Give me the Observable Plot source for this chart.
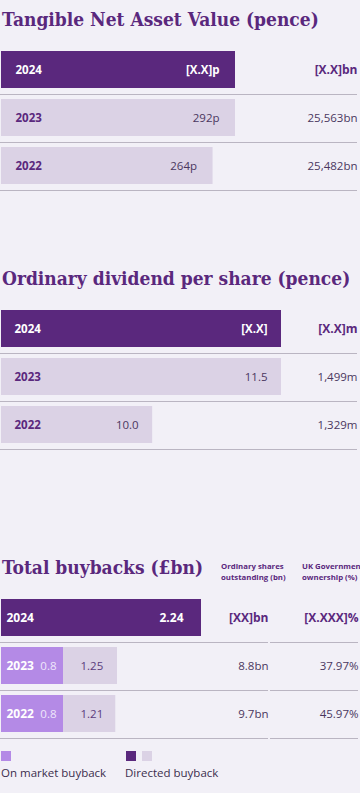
<!DOCTYPE html>
<html><head><meta charset="utf-8">
<script src="https://cdn.jsdelivr.net/npm/d3@7"></script>
<script src="https://cdn.jsdelivr.net/npm/@observablehq/plot@0.6"></script>
<style>
html,body{margin:0;padding:0;}
body{width:360px;height:793px;background:#f2f0f7;position:relative;overflow:hidden;font-family:"Open Sans",sans-serif;}
.title{position:absolute;left:2px;font-family:"DejaVu Serif";font-weight:bold;font-stretch:condensed;font-size:19px;line-height:19px;color:#5a287d;white-space:nowrap;}
.plot{position:absolute;line-height:0;}
.plot svg{display:block;}
.hdr{position:absolute;font-weight:bold;font-size:7.8px;line-height:11px;color:#5a287d;white-space:nowrap;}
.sw{position:absolute;width:10px;height:10px;}
.leg{position:absolute;font-size:11.5px;line-height:14px;color:#3b2e4d;white-space:nowrap;}
</style></head><body>
<div class="title" style="top:10px">Tangible Net Asset Value (pence)</div>
<div class="title" style="top:269px">Ordinary dividend per share (pence)</div>
<div class="title" style="top:558px">Total buybacks (£bn)</div>
<div class="hdr" style="left:221px;top:561px">Ordinary shares<br>outstanding (bn)</div>
<div class="hdr" style="left:302px;top:561px">UK Government<br>ownership (%)</div>
<div id="p1" class="plot" style="left:0;top:40px;width:360px;height:160px"></div>
<div id="p2" class="plot" style="left:0;top:300px;width:360px;height:160px"></div>
<div id="p3" class="plot" style="left:0;top:590px;width:268px;height:160px"></div>
<div id="p4" class="plot" style="left:270px;top:590px;width:88px;height:160px"></div>
<div class="sw" style="left:1px;top:751px;background:#b48ae6"></div>
<div class="sw" style="left:126px;top:751px;background:#5a287d"></div>
<div class="sw" style="left:142px;top:751px;background:#dbd2e5"></div>
<div class="leg" style="left:1px;top:766px">On market buyback</div>
<div class="leg" style="left:125px;top:766px">Directed buyback</div>
<script>
// ---- data ----
const tnavYears = ["2024", "2023", "2022"];
const tnavValues = [292, 292, 264];           // 2024 value not yet published
const tnavLabels = ["[X.X]p", "292p", "264p"];
const tnavTotals = ["[X.X]bn", "25,563bn", "25,482bn"];

const divYears = ["2024", "2023", "2022"];
const divValues = [11.5, 11.5, 10.0];          // 2024 value not yet published
const divLabels = ["[X.X]", "11.5", "10.0"];
const divTotals = ["[X.X]m", "1,499m", "1,329m"];

const bbYears = ["2024", "2023", "2022"];
const bbOnMarket = [0, 0.8, 0.8];
const bbDirected = [2.24, 1.25, 1.21];
const bbOnMarketLabels = ["", "0.8", "0.8"];
const bbDirectedLabels = ["2.24", "1.25", "1.21"];
const bbShares = ["[XX]bn", "8.8bn", "9.7bn"];
const bbOwnership = ["[X.XXX]%", "37.97%", "45.97%"];

// ---- styles ----
const DARK = "#5a287d", LIGHT = "#dbd2e5", ONMKT = "#b48ae6", RULE = "#bab5c2", TEXT = "#4a3760";
const FS = "11.5px";
const baseStyle = {fontFamily: "'Open Sans', sans-serif", fontSize: FS, background: "transparent", overflow: "visible", display: "block", maxWidth: "none"};
const BANDW = 38, GAP = 5.5;

function simpleSection(el, {years, values, labels, totals, xDomain, xRange, yRange, yearDx, valDx}) {
  const rows = years.map((y, i) => ({year: y, value: values[i], label: labels[i], total: totals[i], cur: i === 0}));
  const cur = d => d.cur, past = d => !d.cur;
  const chart = Plot.plot({
    width: 360, height: 160,
    marginLeft: 0, marginRight: 3, marginTop: 0, marginBottom: 0,
    style: baseStyle,
    x: {type: "linear", domain: xDomain, range: xRange, clamp: true, axis: null},
    y: {type: "band", domain: years, range: yRange, paddingInner: 0.224, paddingOuter: 0, axis: null},
    color: {type: "identity"},
    marks: [
      Plot.barX(rows, {x: "value", y: "year", fill: d => d.cur ? DARK : LIGHT}),
      Plot.ruleY(rows, {y: "year", stroke: RULE, strokeWidth: 1, dy: BANDW / 2 + GAP}),
      Plot.text(rows, {y: "year", text: "year", frameAnchor: "left", dx: yearDx, textAnchor: "start", fontWeight: "bold", fill: d => d.cur ? "#ffffff" : DARK}),
      Plot.text(rows, {filter: cur, x: "value", y: "year", text: "label", dx: valDx, textAnchor: "end", fontWeight: "bold", fill: "#ffffff"}),
      Plot.text(rows, {filter: past, x: "value", y: "year", text: "label", dx: valDx, textAnchor: "end", fill: TEXT}),
      Plot.text(rows, {filter: cur, y: "year", text: "total", frameAnchor: "right", textAnchor: "end", fontWeight: "bold", fill: DARK, fontSize: "12px"}),
      Plot.text(rows, {filter: past, y: "year", text: "total", frameAnchor: "right", textAnchor: "end", fill: TEXT})
    ]
  });
  document.getElementById(el).appendChild(chart);
}

simpleSection("p1", {years: tnavYears, values: tnavValues, labels: tnavLabels, totals: tnavTotals,
  xDomain: [0, 292], xRange: [1, 235], yRange: [10, 146], yearDx: 15, valDx: -16});

simpleSection("p2", {years: divYears, values: divValues, labels: divLabels, totals: divTotals,
  xDomain: [8.24, 11.5], xRange: [1, 281], yRange: [9, 145], yearDx: 14, valDx: -14});

// ---- buybacks ----
const bbRows = bbYears.map((y, i) => ({
  year: y, on: bbOnMarket[i], dir: bbDirected[i], end: bbOnMarket[i] + bbDirected[i],
  onLabel: bbOnMarketLabels[i], dirLabel: bbDirectedLabels[i], shares: bbShares[i], own: bbOwnership[i], cur: i === 0
}));
const cur = d => d.cur, past = d => !d.cur;
const bbDomain = [0, bbOnMarket[1], bbOnMarket[1] + bbDirected[1], bbDirected[0]];
const bbY = {type: "band", domain: bbYears, range: [8, 144], paddingInner: 0.224, paddingOuter: 0, axis: null};

const chart3 = Plot.plot({
  width: 268, height: 160,
  marginLeft: 0, marginRight: 0, marginTop: 0, marginBottom: 0,
  style: baseStyle,
  x: {type: "linear", domain: bbDomain, range: [1, 63, 117, 201], axis: null},
  y: bbY,
  color: {type: "identity"},
  marks: [
    Plot.barX(bbRows.filter(d => d.on > 0), {x1: 0, x2: "on", y: "year", fill: ONMKT}),
    Plot.barX(bbRows, {x1: "on", x2: "end", y: "year", fill: d => d.cur ? DARK : LIGHT}),
    Plot.ruleY(bbRows, {y: "year", stroke: RULE, strokeWidth: 1, dy: BANDW / 2 + GAP}),
    Plot.text(bbRows, {y: "year", text: "year", frameAnchor: "left", dx: 6, textAnchor: "start", fontWeight: "bold", fill: "#ffffff", fontSize: "12px"}),
    Plot.text(bbRows, {filter: cur, x: "end", y: "year", text: "dirLabel", dx: -18, textAnchor: "end", fontWeight: "bold", fill: "#ffffff", fontSize: "12px"}),
    Plot.text(bbRows, {filter: past, x: "on", y: "year", text: "onLabel", dx: -7, textAnchor: "end", fill: "#efe6fb"}),
    Plot.text(bbRows, {filter: past, x: "on", y: "year", text: "dirLabel", dx: 17, textAnchor: "start", fill: "#5a3c7c"}),
    Plot.text(bbRows, {filter: cur, y: "year", text: "shares", frameAnchor: "right", textAnchor: "end", fontWeight: "bold", fill: DARK, fontSize: "12px"}),
    Plot.text(bbRows, {filter: past, y: "year", text: "shares", frameAnchor: "right", textAnchor: "end", fill: TEXT})
  ]
});
document.getElementById("p3").appendChild(chart3);

const chart4 = Plot.plot({
  width: 88, height: 160,
  marginLeft: 0, marginRight: 0, marginTop: 0, marginBottom: 0,
  style: baseStyle,
  y: bbY,
  marks: [
    Plot.ruleY(bbRows, {y: "year", stroke: RULE, strokeWidth: 1, dy: BANDW / 2 + GAP}),
    Plot.text(bbRows, {filter: cur, y: "year", text: "own", frameAnchor: "right", textAnchor: "end", fontWeight: "bold", fill: DARK, fontSize: "12px"}),
    Plot.text(bbRows, {filter: past, y: "year", text: "own", frameAnchor: "right", textAnchor: "end", fill: TEXT})
  ]
});
document.getElementById("p4").appendChild(chart4);
</script>
</body></html>
